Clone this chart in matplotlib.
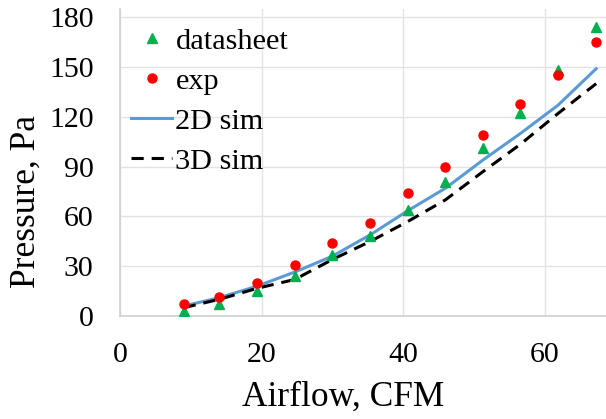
import numpy as np
import matplotlib
matplotlib.use("Agg")
import matplotlib.pyplot as plt

# Fan curve: pressure vs airflow
airflow = [9.0, 14.0, 19.4, 24.7, 30.0, 35.4, 40.7, 46.0, 51.3, 56.6, 61.9, 67.3]
datasheet = [3, 7.5, 15, 24, 37, 48, 64, 81, 101, 122.5, 148, 174]
exp = [7, 11.6, 20, 31, 44, 56, 74, 90, 109, 128, 145, 165]
sim_2d = [6, 11, 18, 26.5, 36, 49, 63.5, 77, 94, 110, 127, 149]
sim_3d = [5, 10, 16.7, 22, 34, 45, 57, 70, 87, 103.5, 122, 140]

xticks = [0, 20, 40, 60]
yticks = [0, 30, 60, 90, 120, 150, 180]

plt.rcParams['font.family'] = ['Liberation Serif', 'DejaVu Serif']

W, H = 606, 419
fig = plt.figure(figsize=(W / 100, H / 100), dpi=100)
# plot area in pixels: left 120, right edge of image, top ~9.5, bottom 316
ax = fig.add_axes([120 / W, 1 - 316 / H, 1 - 120 / W, (316 - 9.5) / H])

ax.plot(airflow, sim_2d, color='#5b9bd5', lw=2.2, label='2D sim', zorder=3)
ax.plot(airflow, sim_3d, color='black', lw=2.2, ls=(0, (4, 2.6)), label='3D sim', zorder=3)
ax.plot(airflow, datasheet, ls='none', marker='^', color='#00b050', ms=6.5,
        label='datasheet', zorder=4)
ax.plot(airflow, exp, ls='none', marker='o', color='#ff0000', ms=6.5,
        label='exp', zorder=5)

ax.set_xlim(0, (W - 120) / 7.075)
ax.set_ylim(0, 180 + 7.8 / 1.66)
ax.set_xticks(xticks)
ax.set_yticks(yticks)
ax.grid(True, color='#e3e3e3', lw=1)
ax.set_axisbelow(True)
for s in ['top', 'right']:
    ax.spines[s].set_visible(False)
for s in ['left', 'bottom']:
    ax.spines[s].set_color('#d0d0d0')
    ax.spines[s].set_linewidth(1.2)
ax.tick_params(length=0, labelsize=21.5, colors='black')
ax.tick_params(axis='y', pad=19)
ax.tick_params(axis='x', pad=19)

fig.text(343 / W, 1 - 397 / H, 'Airflow, CFM', fontsize=25.5, ha='center', va='center')
fig.text(26 / W, 1 - 201 / H, 'Pressure, Pa', fontsize=25.5, ha='center', va='center',
         rotation=90)

h, l = ax.get_legend_handles_labels()
order = [2, 3, 0, 1]
ax.legend([h[i] for i in order], [l[i] for i in order], loc='upper left',
          bbox_to_anchor=(-0.015, 1.0), frameon=False, fontsize=21.8,
          handlelength=1.37, handletextpad=0.1, labelspacing=0.42,
          borderaxespad=0.2)

fig.savefig('out.png', dpi=100)
